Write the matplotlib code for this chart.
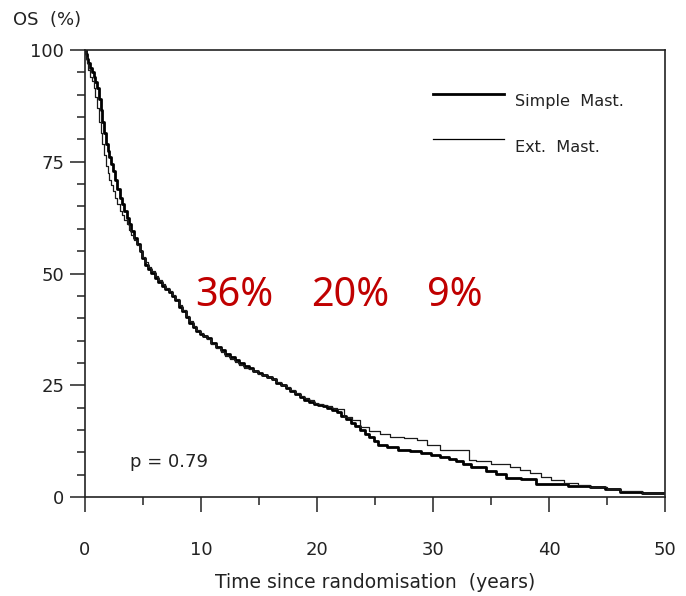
import matplotlib
matplotlib.use("Agg")
import matplotlib.pyplot as plt
from matplotlib.ticker import MultipleLocator

# Kaplan-Meier overall survival, two surgical arms (step points: years, % alive)
simple_t = [0, 0.1, 0.2, 0.3, 0.45, 0.6, 0.75, 0.9, 1.05, 1.2,
            1.35, 1.5, 1.65, 1.8, 1.95, 2.1, 2.25, 2.4, 2.6, 2.8,
            3.0, 3.2, 3.4, 3.6, 3.8, 4.0, 4.2, 4.45, 4.7, 4.95,
            5.2, 5.45, 5.7, 6.0, 6.3, 6.6, 6.9, 7.2, 7.5, 7.8,
            8.1, 8.4, 8.7, 9.0, 9.3, 9.6, 9.9, 10.2, 10.5, 10.9,
            11.3, 11.7, 12.1, 12.5, 12.9, 13.3, 13.7, 14.1, 14.5, 14.9,
            15.3, 15.7, 16.1, 16.5, 16.9, 17.3, 17.7, 18.1, 18.5, 18.9,
            19.3, 19.7, 20.1, 20.5, 20.9, 21.3, 21.7,
            22.1, 22.5, 22.9, 23.3, 23.7, 24.1, 24.5, 24.9, 25.3,
            26.0, 27.0, 28.0, 29.0, 29.8, 30.6, 31.4, 32.0, 32.6, 33.3,
            34.6, 35.4, 36.3, 37.6, 38.9, 40.2, 41.6, 43.5, 44.8, 46.1,
            48.0, 50.0]
simple_s = [100, 99, 98, 97, 96, 95, 94, 92.8, 91.4, 89,
            86.5, 84, 81.5, 79, 77.5, 76, 74.5, 73, 71, 69,
            67, 65.5, 64, 62.5, 61, 59.5, 58, 56.5, 55, 53.5,
            52, 51, 50.2, 49, 48, 47.2, 46.5, 45.8, 45, 44,
            42.5, 41.5, 40.2, 39, 38, 37.2, 36.5, 36.0, 35.5, 34.5,
            33.6, 32.8, 32.0, 31.3, 30.6, 30.0, 29.3, 28.8, 28.3, 27.8,
            27.3, 26.8, 26.3, 25.6, 25.0, 24.4, 23.8, 23.1, 22.4, 21.8,
            21.3, 20.9, 20.6, 20.4, 20.0, 19.5, 19.0,
            18.2, 17.4, 16.6, 15.8, 15.0, 14.2, 13.4, 12.6, 11.6,
            11.2, 10.6, 10.2, 9.8, 9.4, 9.0, 8.5, 8.0, 7.4, 6.8,
            5.8, 5.2, 4.2, 4.0, 3.0, 2.8, 2.5, 2.2, 1.8, 1.2,
            1.0, 0.8]

ext_t = [0, 0.1, 0.2, 0.3, 0.45, 0.6, 0.75, 0.9, 1.05, 1.2,
         1.35, 1.5, 1.65, 1.8, 1.95, 2.1, 2.25, 2.4, 2.6, 2.8,
         3.0, 3.2, 3.4, 3.6, 3.8, 4.0, 4.2, 4.45, 4.7, 4.95,
         5.2, 5.45, 5.7, 6.0, 6.3, 6.6, 6.9, 7.2, 7.5, 7.8,
         8.1, 8.4, 8.7, 9.0, 9.3, 9.6, 9.9, 10.2, 10.5, 10.9,
         11.3, 11.7, 12.1, 12.5, 12.9, 13.3, 13.7, 14.1, 14.5, 14.9,
         15.3, 15.7, 16.1, 16.5, 16.9, 17.3, 17.7, 18.1, 18.5, 18.9,
         19.3, 19.7, 20.1, 20.5, 20.9, 21.3, 21.7,
         22.3, 23.0, 23.7, 24.5, 25.4, 26.3, 27.5, 28.6, 29.5, 30.6,
         33.1, 33.7, 35.0, 36.6, 37.5, 38.4, 39.3, 40.2, 41.3, 42.5,
         43.5, 45.0, 46.1, 48.0, 50.0]
ext_s = [100, 98.5, 97, 95.5, 94, 93, 91.5, 89.5, 87, 84,
         81.5, 79, 76.5, 74, 72.5, 71, 69.8, 68.5, 67, 65.5,
         64, 63, 62, 61, 59.8, 58.6, 57.6, 56.3, 55, 53.7,
         52.5, 51.5, 50.5, 49.5, 48.5, 47.6, 46.8, 46, 45.2, 44.2,
         43, 41.8, 40.6, 39.3, 38.2, 37.4, 36.6, 36.0, 35.4, 34.3,
         33.3, 32.4, 31.6, 30.9, 30.3, 29.5, 28.9, 28.6, 28.2, 27.6,
         27.3, 26.9, 26.3, 25.8, 25.1, 24.6, 24.0, 23.3, 22.6, 22.1,
         21.6, 21.1, 20.8, 20.6, 20.4, 20.0, 19.6,
         18.0, 17.2, 15.7, 14.8, 14.2, 13.5, 13.1, 12.8, 11.6, 10.5,
         8.3, 8.0, 7.3, 6.8, 6.0, 5.3, 4.5, 3.8, 3.2, 2.7,
         2.2, 1.8, 1.3, 1.0, 0.8]

series_labels = ["Simple  Mast.", "Ext.  Mast."]
milestone_years = [10, 20, 30]
milestone_text = ["36%", "20%", "9%"]
p_text = "p = 0.79"

plt.rcParams["font.family"] = ["DejaVu Sans"]
ink = "#222222"

fig = plt.figure(figsize=(6.86, 5.96), dpi=100)
ax = fig.add_axes([0.1239, 0.1661, 0.8455, 0.75])

ax.plot(simple_t, simple_s, drawstyle="steps-post", color="black", lw=2.0)
ax.plot(ext_t, ext_s, drawstyle="steps-post", color="#1a1a1a", lw=0.9)

ax.set_xlim(0, 50)
ax.set_ylim(0, 100)
ax.xaxis.set_major_locator(MultipleLocator(10))
ax.xaxis.set_minor_locator(MultipleLocator(5))
ax.yaxis.set_major_locator(MultipleLocator(25))
ax.yaxis.set_minor_locator(MultipleLocator(5))
ax.tick_params(which="major", direction="out", length=11, width=1.1,
               labelsize=13, colors=ink, pad=21)
ax.tick_params(axis="y", which="major", pad=4)
ax.tick_params(which="minor", direction="out", length=6, width=1.1,
               colors=ink)
for sp in ax.spines.values():
    sp.set_linewidth(1.2)
    sp.set_color(ink)

ax.set_xlabel("Time since randomisation  (years)", fontsize=13.5,
              color=ink, labelpad=10)
fig.text(47 / 686, 1 - 20 / 596, "OS  (%)", fontsize=13, color=ink,
         ha="center", va="center")

# legend drawn as line segments with labels
legend_y = [90.2, 80.1]
legend_lw = [2.0, 0.9]
for lbl, yv, lw in zip(series_labels, legend_y, legend_lw):
    ax.plot([30, 36.1], [yv, yv], color="black", lw=lw)
    ax.text(37.1, yv - 1.8, lbl, fontsize=11.6, color=ink, va="center",
            ha="left")

ax.text(3.9, 7.8, p_text, fontsize=13, color=ink, va="center",
        ha="left")

for yr, txt in zip(milestone_years, milestone_text):
    ax.text(yr - 0.5, 45.0, txt, fontsize=28.5, color="#C00000",
            family="Noto Sans", va="center", ha="left")

fig.savefig("out.png", dpi=100)
